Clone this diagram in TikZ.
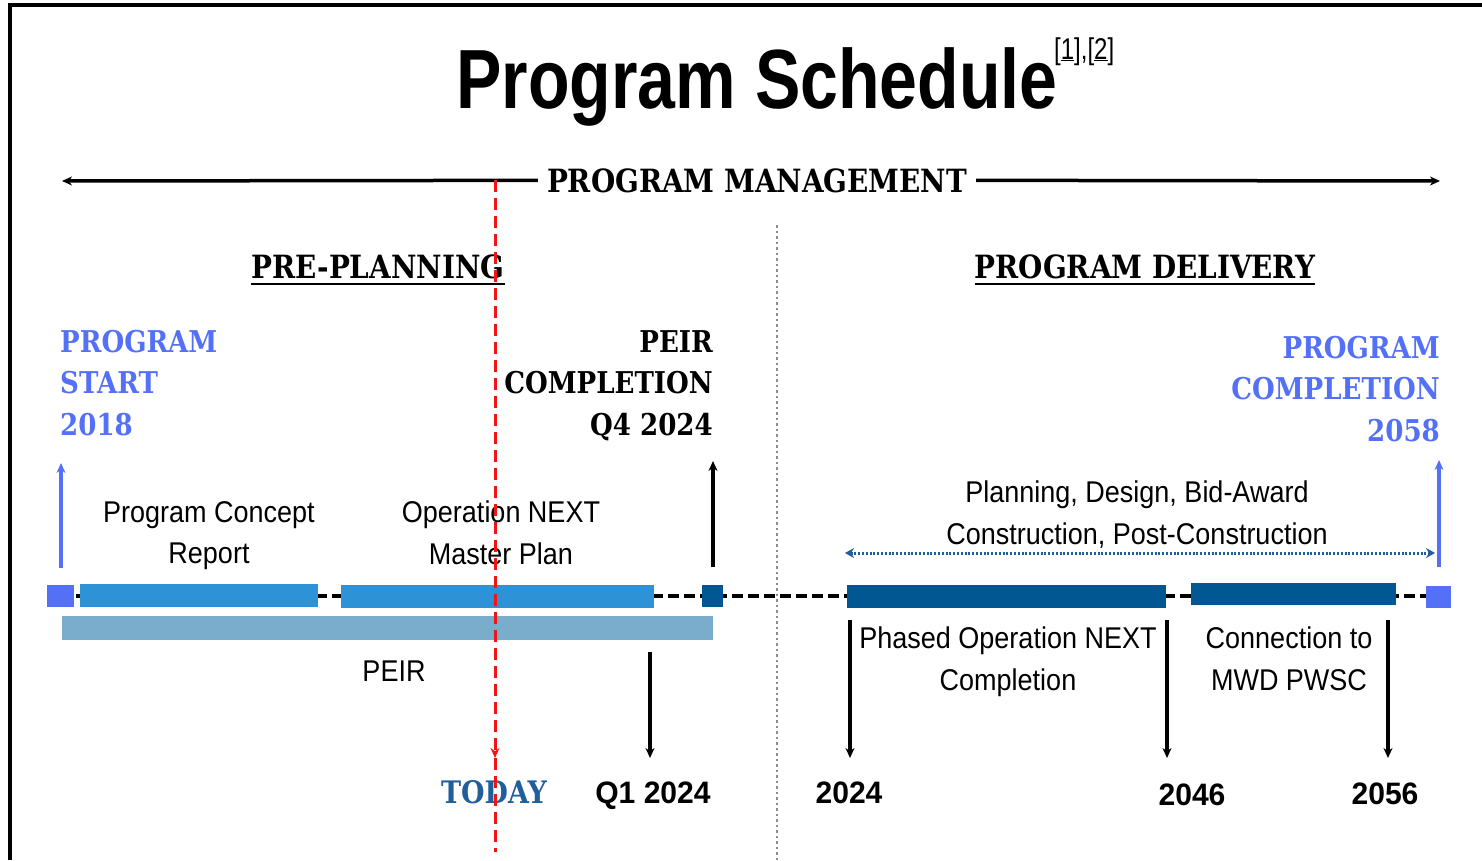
\documentclass[tikz,border=0pt]{standalone}
\usepackage{fontspec}
\setmainfont{Liberation Sans}
\newfontfamily\titlefont[FakeStretch=0.81]{Liberation Sans}
\newfontfamily\slabfont[FakeStretch=0.87]{DejaVu Serif}
\newfontfamily\condfont[FakeStretch=0.9]{Liberation Sans}
\newfontfamily\reffont[FakeStretch=0.8]{Liberation Sans}
\newfontfamily\yearfont[FakeStretch=0.97]{Liberation Sans}
\usetikzlibrary{arrows.meta}
\definecolor{startblue}{RGB}{84,112,246}
\definecolor{barblue}{RGB}{46,146,214}
\definecolor{deepblue}{RGB}{0,87,145}
\definecolor{peirblue}{RGB}{122,172,203}
\definecolor{todayblue}{RGB}{31,95,155}
\definecolor{todayred}{RGB}{240,20,20}
\definecolor{divgray}{RGB}{140,140,140}
\tikzset{
  slab/.style={inner sep=0pt, font=\slabfont\bfseries\fontsize{30}{41.5}\selectfont},
  heading/.style={inner sep=0pt, font=\slabfont\bfseries\fontsize{32}{36}\selectfont},
  body/.style={inner sep=0pt, align=center, font=\condfont\fontsize{30}{41.5}\selectfont},
  year/.style={inner sep=0pt, font=\yearfont\bfseries\fontsize{31}{34}\selectfont},
  tip/.style={-{Stealth[length=10pt,width=9pt]}},
  marker/.style={tip, line width=3.5pt},
}
\begin{document}
\begin{tikzpicture}[x=1pt,y=-1pt]
\useasboundingbox (0,0) rectangle (1482,860);
% frame
\draw[line width=3.5pt] (10,860) -- (10,5) -- (1482,5);
% title
\node[anchor=base, inner sep=0pt, font=\titlefont\bfseries\fontsize{84}{90}\selectfont] (title) at (757,108) {Program Schedule};
\node[anchor=base west, inner sep=0pt, font=\reffont\fontsize{30}{32}\selectfont] (refs) at (1054,59) {[\underline{1}],[\underline{2}]};
% program management
\node[heading, anchor=base] (pm) at (757,192) {PROGRAM MANAGEMENT};
\coordinate (pmL) at (62,181);
\coordinate (pmR) at (1440,181);
\draw[tip, line width=3.5pt] ([xshift=-9pt]pm.west) -- (pmL);
\draw[tip, line width=3.5pt] ([xshift=9pt]pm.east) -- (pmR);
% divider
\coordinate (divT) at (777,225);
\coordinate (divB) at (777,860);
\draw[divgray, line width=2.5pt, dash pattern=on 2.5pt off 3pt] (divT) -- (divB);
% section headings
\node[heading, anchor=base] (pp) at (378,278) {PRE-PLANNING};
\draw[line width=2.5pt] ([yshift=-6pt]pp.base west) -- ([yshift=-6pt]pp.base east);
\node[heading, anchor=base] (pd) at (1145,278) {PROGRAM DELIVERY};
\draw[line width=2.5pt] ([yshift=-6pt]pd.base west) -- ([yshift=-6pt]pd.base east);
% milestones
\node[slab, anchor=north west, align=left, text=startblue] (start) at (60,330) {PROGRAM\\START\\2018};
\node[slab, anchor=north east, align=right] (peirc) at (713,330) {PEIR\\COMPLETION\\Q4 2024};
\node[slab, anchor=north east, align=right, text=startblue] (compl) at (1440,336) {PROGRAM\\COMPLETION\\2058};
% up arrows
\coordinate (sA1) at (61,568); \coordinate (sA2) at (61,463);
\draw[marker, startblue] (sA1) -- (sA2);
\coordinate (pA1) at (713,567); \coordinate (pA2) at (713,461);
\draw[marker, black] (pA1) -- (pA2);
\coordinate (cA1) at (1439,567); \coordinate (cA2) at (1439,460);
\draw[marker, startblue] (cA1) -- (cA2);
% activity labels
\node[body, anchor=north] (pcr) at (209,501) {Program Concept\\Report};
\node[body, anchor=north] (onmp) at (501,501) {Operation NEXT\\Master Plan};
\node[body, anchor=north] (pdba) at (1137,481) {Planning, Design, Bid-Award\\Construction, Post-Construction};
\coordinate (dL) at (845,553); \coordinate (dR) at (1435,553);
\draw[todayblue, line width=3pt, dash pattern=on 2pt off 1.8pt, {Stealth[length=9pt,width=10pt]}-{Stealth[length=9pt,width=10pt]}] (dL) -- (dR);
% timeline
\coordinate (tlL) at (60,596); \coordinate (tlR) at (1426,596);
\draw[line width=3.5pt, dash pattern=on 11pt off 5pt] (tlL) -- (tlR);
\fill[startblue] (47,585) rectangle (74,607);
\fill[barblue] (80,584) rectangle (318,607);
\fill[barblue] (341,585) rectangle (654,608);
\fill[deepblue] (702,585) rectangle (723,607);
\fill[deepblue] (847,585) rectangle (1166,608);
\fill[deepblue] (1191,583) rectangle (1396,605);
\fill[startblue] (1426,586) rectangle (1451,608);
\fill[peirblue] (62,616) rectangle (713,640);
\node[body, anchor=base] (peir) at (394,681) {PEIR};
% lower labels
\node[body, anchor=north] (poc) at (1008,627) {Phased Operation NEXT\\Completion};
\node[body, anchor=north] (mwd) at (1289,627) {Connection to\\MWD PWSC};
% down arrows
\coordinate (q1a) at (650,652); \coordinate (q1b) at (650,758);
\draw[marker] (q1a) -- (q1b);
\coordinate (y24a) at (850,620); \coordinate (y24b) at (850,758);
\draw[marker] (y24a) -- (y24b);
\coordinate (y46a) at (1167,620); \coordinate (y46b) at (1167,758);
\draw[marker] (y46a) -- (y46b);
\coordinate (y56a) at (1388,620); \coordinate (y56b) at (1388,758);
\draw[marker] (y56a) -- (y56b);
% year labels
\node[heading, anchor=base, text=todayblue, font=\slabfont\bfseries\fontsize{31}{34}\selectfont] (today) at (494,803) {TODAY};
\node[year, anchor=base] (q1) at (653,803) {Q1 2024};
\node[year, anchor=base] (y24) at (849,803) {2024};
\node[year, anchor=base] (y46) at (1192,805) {2046};
\node[year, anchor=base] (y56) at (1385,804) {2056};
% today line
\coordinate (rT) at (495,180); \coordinate (rM) at (495,758); \coordinate (rB) at (495,852);
\draw[todayred, line width=3pt, dash pattern=on 12pt off 6pt, -{Stealth[length=10pt,width=9pt]}] (rT) -- (rM);
\draw[todayred, line width=3pt, dash pattern=on 12pt off 6pt] (rM) -- (rB);
\end{tikzpicture}
\end{document}
